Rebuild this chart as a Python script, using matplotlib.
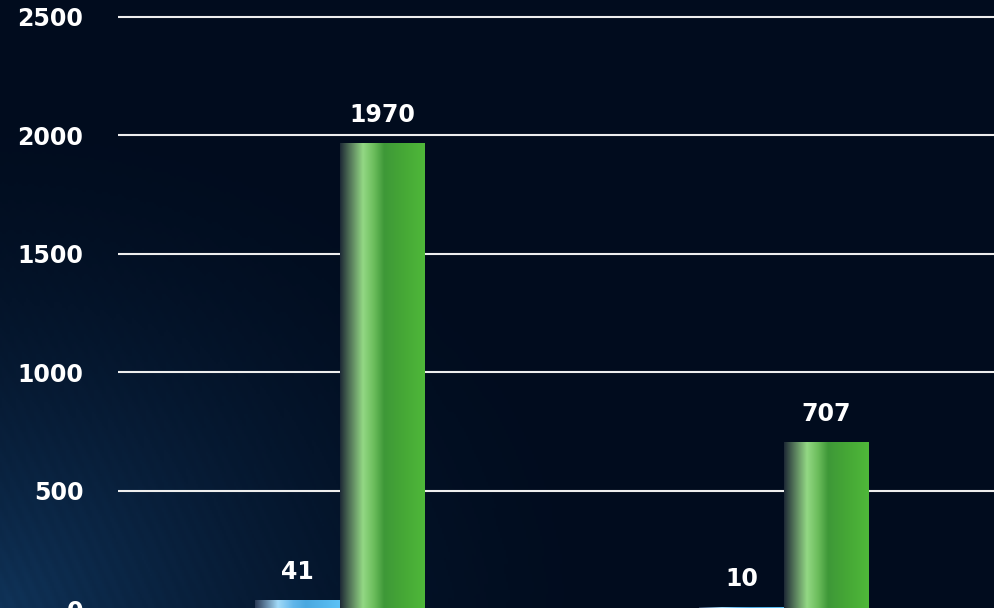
import numpy as np
import matplotlib
matplotlib.use("Agg")
import matplotlib.pyplot as plt
from matplotlib.colors import LinearSegmentedColormap

# data
categories = ["Group 1", "Group 2"]
blue_values = [41, 10]
green_values = [1970, 707]
y_ticks = [0, 500, 1000, 1500, 2000, 2500]

green_cmap = LinearSegmentedColormap.from_list("green_bar", [
    (0.0, "#1e2a36"), (0.12, "#55785a"), (0.27, "#93d884"), (0.4, "#6cbd5c"),
    (0.52, "#3e9838"), (0.75, "#46a836"), (1.0, "#4fb83a")])
blue_cmap = LinearSegmentedColormap.from_list("blue_bar", [
    (0.0, "#2a3a56"), (0.12, "#60809e"), (0.27, "#a2daf8"), (0.45, "#62b6ea"),
    (0.6, "#4aa8e0"), (1.0, "#5cc2f6")])

fig = plt.figure(figsize=(9.94, 6.08), dpi=100)

# background: dark navy with a bluish glow in the lower left
bg = fig.add_axes([0, 0, 1, 1], zorder=0)
h, w = 304, 497
yy, xx = np.mgrid[0:1:h * 1j, 0:1:w * 1j]
d = np.sqrt((xx * 1.5) ** 2 + ((1 - yy) * 1.1) ** 2)
glow = np.clip(1 - d / 0.95, 0, 1) ** 1.8
streak = 0.5 + 0.5 * np.sin((xx * 9.94 - yy * 6.08 * 0.45) * 45)
glow = glow * (0.94 + 0.06 * streak)
base = np.array([1, 12, 30]) / 255
light = np.array([16, 52, 90]) / 255
img = base + glow[..., None] * (light - base)
bg.imshow(img, aspect="auto", extent=[0, 1, 0, 1])
bg.axis("off")

ax = fig.add_axes([118 / 994, -1.5 / 608, 1 - 118 / 994, 609.5 / 608], zorder=1)
ax.patch.set_alpha(0)

x = np.arange(len(categories))
width = 0.1914
grad = np.linspace(0, 1, 256).reshape(1, -1)

for xs, vals, cmap in [(x - width / 2, blue_values, blue_cmap),
                       (x + width / 2, green_values, green_cmap)]:
    bars = ax.bar(xs, vals, width, color="none", zorder=3)
    for bar, v in zip(bars, vals):
        x0 = bar.get_x()
        im = ax.imshow(grad, cmap=cmap, aspect="auto", zorder=3,
                       extent=[x0, x0 + bar.get_width(), 0, v])
        im.set_clip_path(bar)
        ax.annotate(str(v), (bar.get_x() + bar.get_width() / 2, v),
                    xytext=(0, 20), textcoords="offset points",
                    ha="center", va="center", color="white",
                    fontsize=17, fontweight="bold")

ax.set_xlim(-0.5, 1.473)
ax.set_ylim(0, 2571.7)
ax.set_yticks(y_ticks)
ax.set_yticklabels([str(t) for t in y_ticks], color="white",
                   fontsize=17, fontweight="bold")
ax.tick_params(axis="y", length=0, pad=25)
ax.set_xticks([])
ax.grid(axis="y", color="#eeeeee", linewidth=1.5, zorder=2)
ax.set_axisbelow(True)
for s in ax.spines.values():
    s.set_visible(False)

fig.savefig("out.png", dpi=100)
